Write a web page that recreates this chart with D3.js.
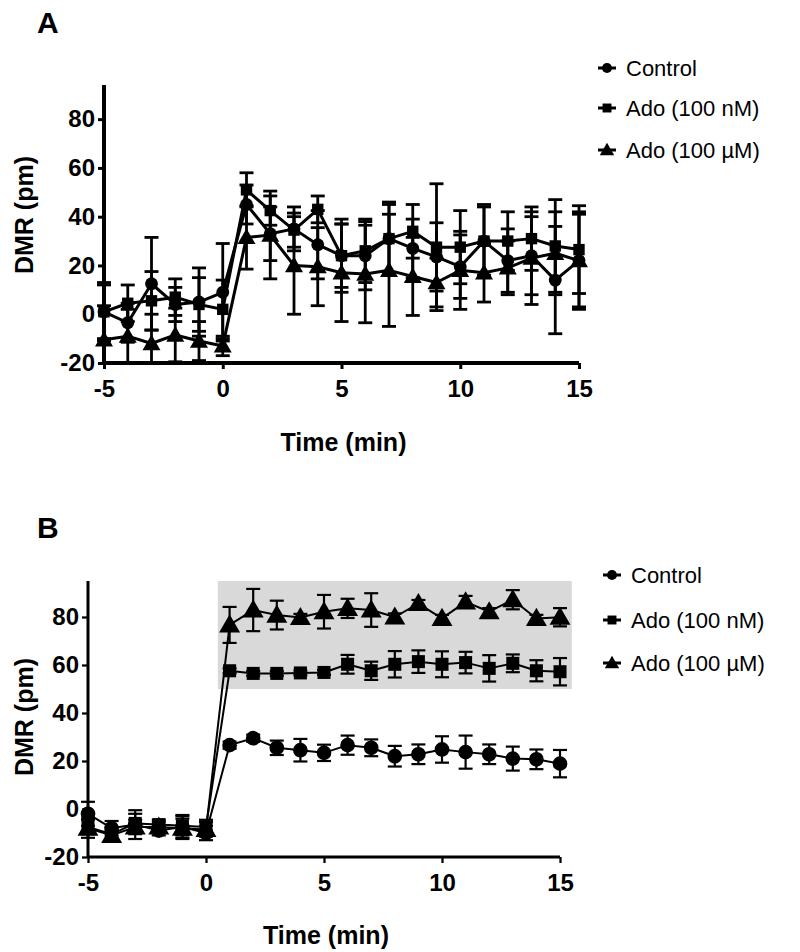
<!DOCTYPE html>
<html><head><meta charset="utf-8">
<script src="https://cdn.jsdelivr.net/npm/d3@7"></script>
<style>body{margin:0;background:#fff} svg{display:block}</style>
</head><body>
<svg id="chart" width="800" height="952"></svg>
<script>
// ---------- DATA ----------
const times = [-5,-4,-3,-2,-1,0,1,2,3,4,5,6,7,8,9,10,11,12,13,14,15];
const seriesNames = ["Control", "Ado (100 nM)", "Ado (100 µM)"];
const xTicks = [-5, 0, 5, 10, 15];
const yTicks = [-20, 0, 20, 40, 60, 80];

// Panel A
const aControl    = [1, -3.5, 12.5, 4, 5, 9, 45, 33, 35, 28.5, 24, 24, 31, 27, 23.5, 19.5, 30, 22, 24, 14, 22];
const aControlErr = [12, 8, 19, 7, 14, 20, 8, 11, 9, 14, 15, 14, 15, 12, 14, 13, 14, 13, 16, 22, 19];
const aNano       = [1, 4.5, 5.5, 7, 4, 2, 51, 42.5, 34.5, 43, 24, 26, 31, 34, 27.5, 27.5, 30, 30, 31, 28, 26.5];
const aNanoErr    = [11, 7.5, 12, 7.5, 11, 12, 7, 6, 7, 5.5, 13, 13, 14, 11, 26, 15, 15, 12, 13, 19, 18];
const aMicro      = [-10.5, -9, -12, -8.5, -11, -13, 31.5, 32.5, 20, 19.5, 17, 16.5, 18, 15.5, 13, 18, 17, 19, 23, 25, 22];
const aMicroErr   = [14, 11, 12, 11, 8, 4, 13, 18, 20, 16, 20, 20, 23, 16, 10, 16, 12, 11, 19, 17, 20];

// Panel B
const bControl    = [-2, -8, -6.5, -9, -7.5, -10, 26.6, 29.5, 25.5, 24.5, 23.4, 26.6, 25.5, 22, 22.8, 24.8, 23.7, 22.8, 21, 20.7, 18.9];
const bControlErr = [5, 3, 6, 2, 5, 3, 1.5, 1.5, 3, 4.7, 3.4, 4, 3.5, 4.3, 4.1, 5.5, 6.9, 4.1, 5, 4.1, 5.7];
const bNano       = [-7.5, -10.5, -6, -6.5, -7, -7.5, 57.6, 56.5, 56.5, 56.7, 56.9, 60.3, 57.6, 60.3, 61.4, 60.3, 61, 58.6, 60.7, 57.6, 57.2];
const bNanoErr    = [3, 3, 4, 2, 4, 3, 1, 1, 1, 1, 1, 3.9, 3.8, 5.5, 4.7, 5.4, 4.5, 5.5, 3.7, 4.4, 5.7];
const bMicro      = [-8, -11, -7.5, -7.5, -8, -8.5, 76.7, 82.9, 80.8, 79.8, 82.2, 83.6, 82.9, 80, 85.6, 79.4, 86.3, 82.2, 87.2, 79.4, 79.9];
const bMicroErr   = [4, 2, 3, 2, 4, 3, 7.5, 8.8, 6, 1.5, 7, 4, 7, 1.5, 1.5, 1.5, 2.5, 1.5, 4, 1.5, 3.8];
const bShadeX = [0.5, 15.5];
const bShadeY = [50, 95];

// ---------- DRAW ----------
const svg = d3.select("#chart");
const FONT = "'Liberation Sans', Arial, Helvetica, sans-serif";
const symbols = [d3.symbolCircle, d3.symbolSquare, d3.symbolTriangle];
const fmt = d => String(d);  // plain hyphen-minus, as in the figure

function panel(cfg) {
  const g = svg.append("g");
  const x = d3.scaleLinear().domain([-5, 15]).range([cfg.left, cfg.right]);
  const y = d3.scaleLinear().domain([-20, cfg.yMax]).range([cfg.bottom, cfg.top]);

  const clipId = "clip" + cfg.id;
  svg.append("defs").append("clipPath").attr("id", clipId)
    .append("rect").attr("x", cfg.left - 20).attr("y", cfg.top - 20)
    .attr("width", cfg.right - cfg.left + 40).attr("height", cfg.bottom - cfg.top + 20);

  if (cfg.shade) {
    g.append("rect")
      .attr("x", x(cfg.shade[0][0])).attr("y", y(cfg.shade[1][1]))
      .attr("width", x(cfg.shade[0][1]) - x(cfg.shade[0][0]))
      .attr("height", y(cfg.shade[1][0]) - y(cfg.shade[1][1]))
      .attr("fill", "#d9d9d9");
  }

  const plot = g.append("g").attr("clip-path", `url(#${clipId})`);
  cfg.series.forEach((s, si) => {
    const pts = times.map((t, i) => ({t, v: s.v[i], e: s.e[i]}));
    plot.append("path").datum(pts)
      .attr("d", d3.line().x(d => x(d.t)).y(d => y(d.v)))
      .attr("fill", "none").attr("stroke", "#000").attr("stroke-width", cfg.lw)
      .attr("stroke-linejoin", "round");
    const eb = plot.append("g").attr("stroke", "#000").attr("stroke-width", cfg.ew);
    pts.forEach(d => {
      eb.append("line").attr("x1", x(d.t)).attr("x2", x(d.t))
        .attr("y1", y(d.v - d.e)).attr("y2", y(d.v + d.e));
      [d.v - d.e, d.v + d.e].forEach(c => {
        eb.append("line").attr("x1", x(d.t) - cfg.cap).attr("x2", x(d.t) + cfg.cap)
          .attr("y1", y(c)).attr("y2", y(c));
      });
    });
    plot.append("g").selectAll("path").data(pts).join("path")
      .attr("transform", d => `translate(${x(d.t)},${y(d.v) + (si === 2 ? 1.5 : 0)})`)
      .attr("d", d3.symbol().type(symbols[si]).size(cfg.sym[si]))
      .attr("fill", "#000");
  });

  // axes
  const xa = g.append("g").attr("transform", `translate(0,${cfg.bottom})`)
    .call(d3.axisBottom(x).tickValues(xTicks).tickSize(cfg.tick).tickPadding(6).tickFormat(fmt));
  const ya = g.append("g").attr("transform", `translate(${cfg.left},0)`)
    .call(d3.axisLeft(y).tickValues(yTicks).tickSize(cfg.tick).tickPadding(3).tickFormat(fmt));
  [xa, ya].forEach(a => {
    a.select(".domain").attr("stroke-width", cfg.aw).attr("stroke", "#000");
    a.selectAll(".tick line").attr("stroke-width", cfg.aw * 0.75).attr("stroke", "#000");
    a.selectAll("text").attr("font-family", FONT).attr("font-weight", "bold")
      .attr("font-size", 24).attr("fill", "#000");
  });
  xa.select(".domain").attr("d", `M${cfg.left},0H${cfg.right}`);
  ya.select(".domain").attr("d", `M0,${cfg.bottom}V${cfg.top}`);
  xa.selectAll("text").attr("dy", "0.9em");

  g.append("text").attr("x", (cfg.left + cfg.right) / 2 + 2).attr("y", cfg.xTitleY)
    .attr("text-anchor", "middle").attr("font-family", FONT).attr("font-weight", "bold")
    .attr("font-size", 25).text("Time (min)");
  g.append("text").attr("transform", `translate(${cfg.yTitleX},${cfg.yTitleY}) rotate(-90)`)
    .attr("text-anchor", "middle").attr("font-family", FONT).attr("font-weight", "bold")
    .attr("font-size", 25).text("DMR (pm)");
  g.append("text").attr("x", 37).attr("y", cfg.labelY)
    .attr("font-family", FONT).attr("font-weight", "bold").attr("font-size", 30).text(cfg.id);

  // legend
  const lg = g.append("g");
  seriesNames.forEach((n, i) => {
    const ly = cfg.legY[i];
    lg.append("line").attr("x1", cfg.legX - 9).attr("x2", cfg.legX + 9)
      .attr("y1", ly).attr("y2", ly).attr("stroke", "#000").attr("stroke-width", 3);
    lg.append("path").attr("transform", `translate(${cfg.legX},${ly + (i === 2 ? 1 : 0)})`)
      .attr("d", d3.symbol().type(symbols[i]).size(cfg.legSym[i])).attr("fill", "#000");
    lg.append("text").attr("x", cfg.legX + 19).attr("y", ly).attr("dy", "0.35em")
      .attr("font-family", FONT).attr("font-size", 22).text(n);
  });
}

panel({
  id: "A", left: 104, right: 579, top: 85, bottom: 363, yMax: 94,
  lw: 3, ew: 2.8, cap: 7, aw: 4, tick: 6, sym: [130, 130, 140],
  series: [{v: aControl, e: aControlErr}, {v: aNano, e: aNanoErr}, {v: aMicro, e: aMicroErr}],
  xTitleY: 451, yTitleX: 33, yTitleY: 215, labelY: 33,
  legX: 607, legY: [68, 108, 150], legSym: [80, 80, 90]
});

panel({
  id: "B", left: 88, right: 560, top: 581, bottom: 857, yMax: 95,
  lw: 2, ew: 2.2, cap: 7, aw: 3, tick: 6, sym: [170, 170, 190],
  series: [{v: bControl, e: bControlErr}, {v: bNano, e: bNanoErr}, {v: bMicro, e: bMicroErr}],
  shade: [bShadeX, bShadeY],
  xTitleY: 944, yTitleX: 33, yTitleY: 717, labelY: 538,
  legX: 612, legY: [575, 620, 663], legSym: [80, 80, 90]
});
</script>
</body></html>
